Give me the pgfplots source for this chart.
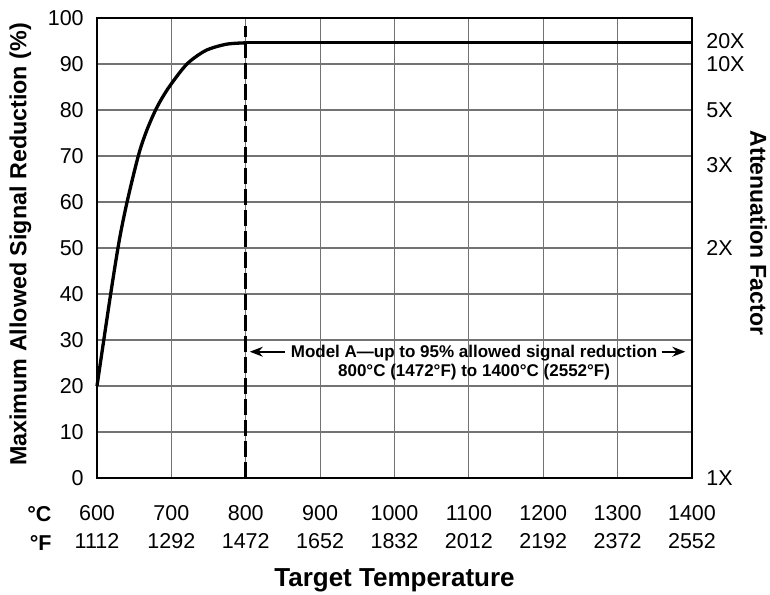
\documentclass[border=0pt]{standalone}
\usepackage{pgfplots}
\pgfplotsset{compat=1.18}
\usetikzlibrary{arrows.meta}
\usepackage{fontspec}
\setmainfont{Liberation Sans}
\begin{document}
\begin{tikzpicture}
\begin{axis}[
  name=main,
  scale only axis, width=595bp, height=460bp,
  xmin=600, xmax=1400, ymin=0, ymax=100,
  xtick={600,700,...,1400},
  xticklabels={{600\\1112},{700\\1292},{800\\1472},{900\\1652},{1000\\1832},{1100\\2012},{1200\\2192},{1300\\2372},{1400\\2552}},
  xticklabel style={align=center, font=\fontsize{21.5bp}{28.3bp}\selectfont, anchor=north, yshift=-24bp},
  ytick={0,10,...,100},
  yticklabel style={font=\fontsize{21.5bp}{24bp}\selectfont, xshift=-9.8bp},
  /pgf/number format/assume math mode=true,
  grid=major, major grid style={black!55, line width=1.2bp},
  major tick length=0pt,
  axis line style={line width=2.3bp},
  xlabel={Target Temperature},
  ylabel={Maximum Allowed Signal Reduction (\%)},
  every axis x label/.style={at={(axis description cs:0.5,-0.2363)}, anchor=base, font=\fontsize{26bp}{30bp}\selectfont\bfseries},
  every axis y label/.style={at={(axis description cs:-0.1286,0.5076)}, anchor=center, rotate=90, font=\fontsize{23.3bp}{27bp}\selectfont\bfseries},
  clip=false,
]
\addplot[line width=3.3bp, smooth, tension=0.5] coordinates {
  (600,20) (618,39.6) (630,51.7) (641,60.4) (656,70.3) (667,75.6) (680,80.4)
  (694,84.3) (712,88.3) (725,90.6) (747,93.0) (774,94.3) (800,94.6)};
\addplot[line width=3.3bp] coordinates {(800,94.6) (1400,94.6)};
\addplot[line width=2.8bp, dash pattern=on 16bp off 5bp] coordinates {(800,0) (800,98.3)};
\draw[-{Stealth[length=13bp,width=10bp]}, line width=1.6bp] (axis cs:853,27.45) -- (axis cs:805.5,27.45);
\draw[-{Stealth[length=13bp,width=10bp]}, line width=1.6bp] (axis cs:1359,27.45) -- (axis cs:1391,27.45);
\node[anchor=base, inner sep=0, font=\fontsize{17bp}{20bp}\selectfont\bfseries] at (axis cs:1107,26.2) {Model A—up to 95\% allowed signal reduction};
\node[anchor=base, inner sep=0, font=\fontsize{17bp}{20bp}\selectfont\bfseries] at (axis cs:1107,22.0) {800°C (1472°F) to 1400°C (2552°F)};
\coordinate (SW) at (rel axis cs:0,0);
\coordinate (NE) at (rel axis cs:1,1);
\end{axis}
\begin{axis}[
  scale only axis, width=595bp, height=460bp,
  xmin=600, xmax=1400, ymin=0, ymax=100,
  axis x line=none, axis y line*=right,
  axis line style={draw=none},
  major tick length=0pt,
  ytick={0,50,68,80,90,95},
  yticklabels={1X,2X,3X,5X,10X,20X},
  yticklabel style={font=\fontsize{21.5bp}{24bp}\selectfont, xshift=10.8bp},
  ylabel={Attenuation Factor},
  every axis y label/.style={at={(axis description cs:1.1118,0.5326)}, anchor=center, rotate=-90, font=\fontsize{23bp}{27bp}\selectfont\bfseries},
]
\end{axis}
\node[anchor=base east, inner sep=0, font=\fontsize{21.5bp}{24bp}\selectfont\bfseries] at ([xshift=-45.3bp,yshift=-43.7bp]SW) {°C};
\node[anchor=base east, inner sep=0, font=\fontsize{21.5bp}{24bp}\selectfont\bfseries] at ([xshift=-45.3bp,yshift=-72bp]SW) {°F};
\pgfresetboundingbox
\path[use as bounding box] ([xshift=-97bp,yshift=-117bp]SW) rectangle ([xshift=78bp,yshift=18bp]NE);
\end{tikzpicture}
\end{document}
